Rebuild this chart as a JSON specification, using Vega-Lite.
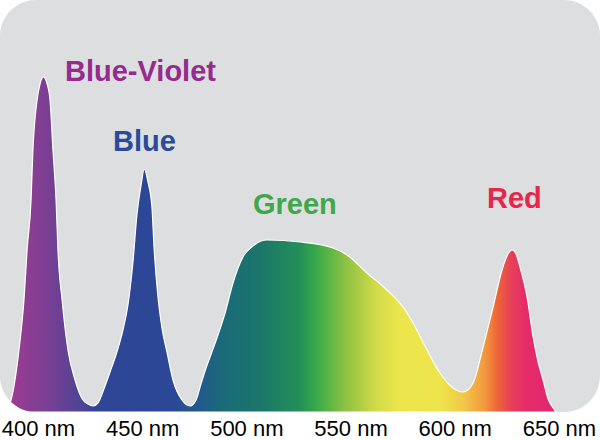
{
  "$schema": "https://vega.github.io/schema/vega-lite/v6.json",
  "width": 600,
  "height": 412,
  "autosize": {"type": "none"},
  "padding": {"left": 0, "top": 0, "right": 0, "bottom": 28},
  "background": "white",
  "config": {"view": {"fill": "#dddee0", "stroke": null, "cornerRadius": 36}},
  "datasets": {
    "spectrum": [
      {"nm": 383.7, "v": 0}, {"nm": 385.6, "v": 4}, {"nm": 387.1, "v": 12}, {"nm": 389.0, "v": 32},
      {"nm": 390.9, "v": 62}, {"nm": 393.3, "v": 112}, {"nm": 394.8, "v": 162}, {"nm": 396.7, "v": 212},
      {"nm": 397.6, "v": 262}, {"nm": 399.6, "v": 312}, {"nm": 401.0, "v": 328}, {"nm": 402.6, "v": 335},
      {"nm": 404.4, "v": 328}, {"nm": 405.8, "v": 312}, {"nm": 407.2, "v": 262}, {"nm": 408.7, "v": 212},
      {"nm": 409.6, "v": 162}, {"nm": 411.6, "v": 112}, {"nm": 414.4, "v": 62}, {"nm": 417.8, "v": 32},
      {"nm": 421.6, "v": 12}, {"nm": 424.0, "v": 8}, {"nm": 426.4, "v": 6}, {"nm": 428.8, "v": 9},
      {"nm": 429.8, "v": 13}, {"nm": 432.2, "v": 26}, {"nm": 434.6, "v": 40}, {"nm": 437.9, "v": 60},
      {"nm": 440.8, "v": 82}, {"nm": 443.2, "v": 107}, {"nm": 445.6, "v": 150}, {"nm": 447.5, "v": 197},
      {"nm": 449.5, "v": 227}, {"nm": 451.0, "v": 243}, {"nm": 452.8, "v": 230}, {"nm": 454.7, "v": 205},
      {"nm": 455.7, "v": 165}, {"nm": 457.6, "v": 115}, {"nm": 459.5, "v": 84}, {"nm": 461.9, "v": 60},
      {"nm": 464.8, "v": 32}, {"nm": 469.1, "v": 12}, {"nm": 473.0, "v": 6}, {"nm": 475.9, "v": 12},
      {"nm": 477.8, "v": 25}, {"nm": 480.2, "v": 41}, {"nm": 482.6, "v": 55}, {"nm": 486.4, "v": 77},
      {"nm": 489.8, "v": 99}, {"nm": 493.6, "v": 129}, {"nm": 498.4, "v": 155}, {"nm": 503.2, "v": 166},
      {"nm": 509.9, "v": 172}, {"nm": 525.8, "v": 170}, {"nm": 541.6, "v": 164}, {"nm": 548.3, "v": 157},
      {"nm": 557.9, "v": 139}, {"nm": 567.5, "v": 122}, {"nm": 575.2, "v": 105}, {"nm": 580.0, "v": 89},
      {"nm": 586.7, "v": 62}, {"nm": 592.9, "v": 39}, {"nm": 599.2, "v": 24}, {"nm": 604.0, "v": 20},
      {"nm": 608.8, "v": 29}, {"nm": 613.6, "v": 65}, {"nm": 618.4, "v": 105}, {"nm": 622.7, "v": 142},
      {"nm": 625.6, "v": 158}, {"nm": 627.5, "v": 162}, {"nm": 629.4, "v": 158}, {"nm": 631.3, "v": 145},
      {"nm": 634.7, "v": 115}, {"nm": 637.6, "v": 75}, {"nm": 640.0, "v": 50}, {"nm": 642.4, "v": 32},
      {"nm": 644.8, "v": 13}, {"nm": 647.2, "v": 4}, {"nm": 648.6, "v": 0}
    ],
    "labels": [
      {"label": "Blue-Violet", "nm": 413.0, "v": 331},
      {"label": "Blue", "nm": 436.0, "v": 261},
      {"label": "Green", "nm": 503.2, "v": 198},
      {"label": "Red", "nm": 615.5, "v": 204}
    ]
  },
  "layer": [
    {
      "data": {"name": "spectrum"},
      "mark": {
        "type": "area",
        "interpolate": "monotone",
        "clip": true,
        "stroke": "white",
        "strokeWidth": 1.2,
        "fill": {
          "gradient": "linear", "x1": 0, "x2": 1, "y1": 0, "y2": 0,
          "stops": [
            {"offset": 0.0, "color": "#a23b92"},
            {"offset": 0.074, "color": "#7d3f93"},
            {"offset": 0.138, "color": "#4f4396"},
            {"offset": 0.174, "color": "#2f4596"},
            {"offset": 0.31, "color": "#2b4896"},
            {"offset": 0.355, "color": "#215a8b"},
            {"offset": 0.40, "color": "#1a6b78"},
            {"offset": 0.464, "color": "#1b766a"},
            {"offset": 0.536, "color": "#248f58"},
            {"offset": 0.569, "color": "#3cab48"},
            {"offset": 0.618, "color": "#8cc143"},
            {"offset": 0.672, "color": "#d0da48"},
            {"offset": 0.717, "color": "#ece64c"},
            {"offset": 0.79, "color": "#eee44c"},
            {"offset": 0.835, "color": "#f1c648"},
            {"offset": 0.871, "color": "#f2983f"},
            {"offset": 0.893, "color": "#ee6636"},
            {"offset": 0.917, "color": "#e74258"},
            {"offset": 0.944, "color": "#e42c68"},
            {"offset": 1.0, "color": "#e2266f"}
          ]
        }
      },
      "encoding": {
        "x": {
          "field": "nm", "type": "quantitative",
          "scale": {"domain": [381.8, 669.7], "nice": false, "zero": false},
          "axis": {
            "values": [400, 450, 500, 550, 600, 650],
            "labelExpr": "datum.value + ' nm'",
            "labelFont": "Liberation Sans",
            "labelFontSize": 22,
            "labelColor": "black",
            "labelBaseline": "alphabetic",
            "labelPadding": 23,
            "labelFlush": false,
            "labelOverlap": false,
            "labelBound": false,
            "domain": false,
            "ticks": false,
            "tickSize": 0,
            "grid": false,
            "title": null
          }
        },
        "y": {
          "field": "v", "type": "quantitative",
          "scale": {"domain": [0, 412], "nice": false},
          "axis": null
        }
      }
    },
    {
      "data": {"name": "labels"},
      "mark": {"type": "text", "align": "left", "baseline": "alphabetic", "font": "Liberation Sans", "fontWeight": "bold", "fontSize": 29},
      "encoding": {
        "x": {"field": "nm", "type": "quantitative"},
        "y": {"field": "v", "type": "quantitative"},
        "text": {"field": "label"},
        "color": {
          "field": "label", "type": "nominal",
          "scale": {"domain": ["Blue-Violet", "Blue", "Green", "Red"], "range": ["#962a8e", "#2a4a9c", "#3fa84b", "#e8254b"]},
          "legend": null
        }
      }
    }
  ]
}
